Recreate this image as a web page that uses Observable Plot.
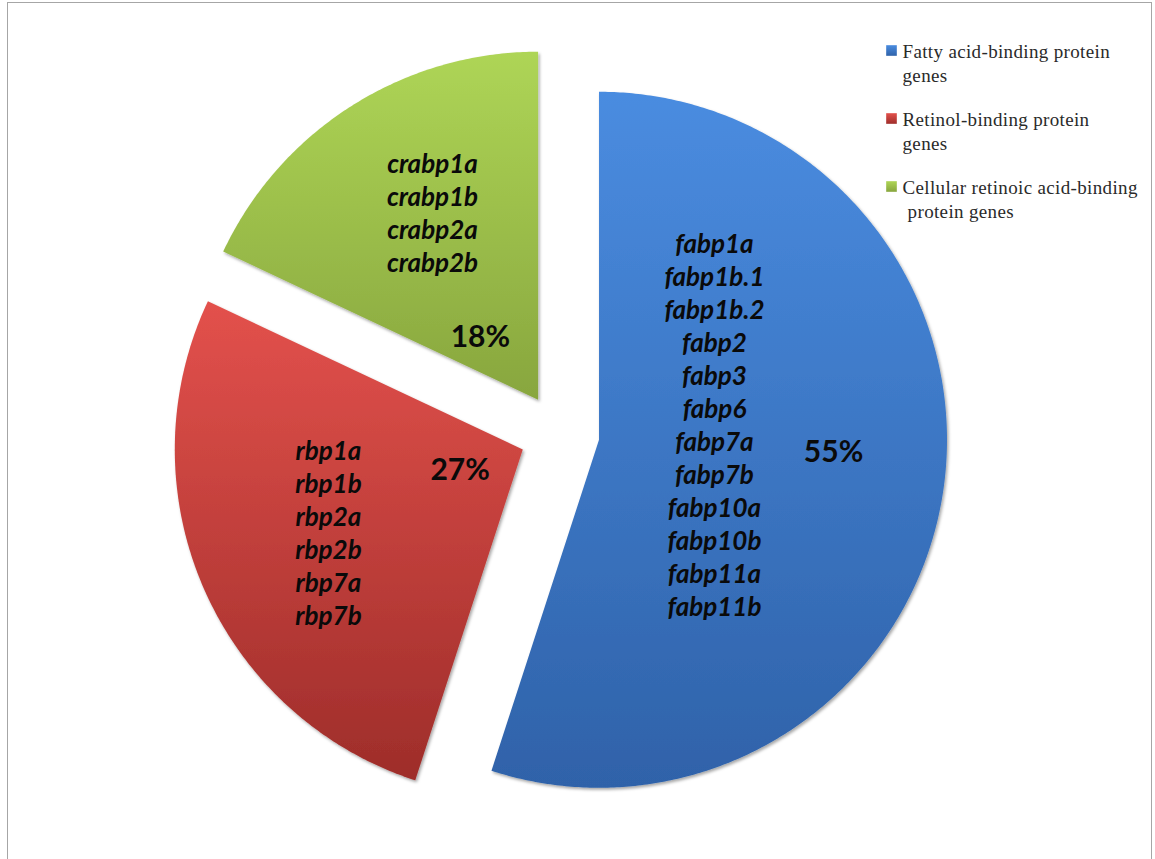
<!DOCTYPE html>
<html>
<head>
<meta charset="utf-8">
<script src="https://cdn.jsdelivr.net/npm/d3@7"></script>
<script src="https://cdn.jsdelivr.net/npm/@observablehq/plot@0.6"></script>
<style>
  html, body { margin: 0; padding: 0; background: #fff; }
  #wrap { position: relative; width: 1155px; height: 859px; overflow: hidden; }
  #frame { position: absolute; left: 7px; top: 2px; width: 1145px; height: 880px;
           border: 1.5px solid #a6a6a6; box-sizing: border-box; pointer-events: none; }
</style>
</head>
<body>
<div id="wrap"><div id="frame"></div></div>
<script>
// ---- data ----
const categories = [
  "Fatty acid-binding protein genes",
  "Retinol-binding protein genes",
  "Cellular retinoic acid-binding protein genes"
];
const shares = [55, 27, 18];
const percentLabels = ["55%", "27%", "18%"];
const fabpGenes = ["fabp1a","fabp1b.1","fabp1b.2","fabp2","fabp3","fabp6","fabp7a","fabp7b","fabp10a","fabp10b","fabp11a","fabp11b"];
const rbpGenes = ["rbp1a","rbp1b","rbp2a","rbp2b","rbp7a","rbp7b"];
const crabpGenes = ["crabp1a","crabp1b","crabp2a","crabp2b"];
const geneLists = [fabpGenes, rbpGenes, crabpGenes];
const legendLines = [
  ["Fatty acid-binding protein", "genes"],
  ["Retinol-binding protein", "genes"],
  ["Cellular retinoic acid-binding", " protein genes"]
];

// ---- layout ----
const W = 1155, H = 859;
const CX = 559, CY = 433, R = 348, EXPLODE = 40;
// label placement: [angle offset from slice mid (deg), radius fraction]
const listPlace = [[-16.9, 0.335], [0.3, 0.607], [3.0, 0.618]];
const pctPlace  = [[-5.8, 0.675], [4.7, 0.19], [-10.4, 0.244]];
const gradIds = ["gBlue", "gRed", "gGreen"];

const pie = d3.pie().sort(null).value(d => d)(shares);
const rad = a => a * Math.PI / 180;
const dir = ang => [Math.sin(ang), -Math.cos(ang)];

const slices = pie.map((p, i) => {
  const mid = (p.startAngle + p.endAngle) / 2;
  const [ux, uy] = dir(mid);
  return { i, name: categories[i], start: p.startAngle, end: p.endAngle, mid,
           ax: CX + EXPLODE * ux, ay: CY + EXPLODE * uy };
});

const polyPts = [];
for (const s of slices) {
  polyPts.push({ name: s.name, x: s.ax, y: s.ay });
  const n = Math.max(2, Math.ceil((s.end - s.start) / rad(0.5)));
  for (let k = 0; k <= n; k++) {
    const a = s.start + (s.end - s.start) * k / n;
    const [ux, uy] = dir(a);
    polyPts.push({ name: s.name, x: s.ax + R * ux, y: s.ay + R * uy });
  }
  polyPts.push({ name: s.name, x: s.ax, y: s.ay });
}

const place = (s, [off, frac]) => {
  const [ux, uy] = dir(s.mid + rad(off));
  return [s.ax + frac * R * ux, s.ay + frac * R * uy];
};
const listLabels = slices.map(s => {
  const [x, y] = place(s, listPlace[s.i]);
  return { x, y, text: geneLists[s.i].join("\n") };
});
const pctLabels = slices.map(s => {
  const [x, y] = place(s, pctPlace[s.i]);
  return { x, y, text: percentLabels[s.i] };
});

const LX = 891, LY = 51, LSTEP = 68, LLINE = 24;
const legendSwatches = categories.map((c, i) => ({ name: c, x: LX, y: LY + i * LSTEP - 1 }));
const legendText = [];
legendLines.forEach((lines, i) => lines.forEach((t, j) =>
  legendText.push({ x: LX + 11, y: LY + i * LSTEP + j * LLINE, text: t })));

const chart = Plot.plot({
  width: W, height: H,
  margin: 0,
  x: { domain: [0, W], range: [0, W], axis: null },
  y: { domain: [0, H], range: [0, H], axis: null },
  color: { type: "ordinal", domain: categories, range: gradIds.map(id => `url(#${id})`) },
  marks: [
    Plot.line(polyPts, { x: "x", y: "y", z: "name", fill: "name", stroke: "none", curve: "linear-closed" }),
    Plot.text(listLabels, { x: "x", y: "y", text: "text", fontFamily: "Lato, 'Open Sans', sans-serif",
      fontSize: 26, fontWeight: "bold", fontStyle: "italic", lineHeight: 33 / 26, fill: "#0a0a0a" }),
    Plot.text(pctLabels, { x: "x", y: "y", text: "text", fontFamily: "Lato, 'Open Sans', sans-serif",
      fontSize: 30, fontWeight: "bold", fill: "#0a0a0a" }),
    Plot.dot(legendSwatches, { x: "x", y: "y", symbol: "square", r: 6, fill: "name", stroke: "none" }),
    Plot.text(legendText, { x: "x", y: "y", text: "text", textAnchor: "start",
      fontFamily: "'Liberation Serif', 'Times New Roman', serif", fontSize: 19, fill: "#2a2a2a" })
  ]
});

// gradients + shadow
const ns = "http://www.w3.org/2000/svg";
const defs = document.createElementNS(ns, "defs");
const stops = {
  gBlue: ["#4a8ce0", "#2f62a9"],
  gRed: ["#e3514c", "#9e2d2a"],
  gGreen: ["#aed556", "#88a63e"]
};
for (const id of gradIds) {
  const g = document.createElementNS(ns, "linearGradient");
  g.setAttribute("id", id);
  g.setAttribute("x1", "0"); g.setAttribute("y1", "0");
  g.setAttribute("x2", "0"); g.setAttribute("y2", "1");
  stops[id].forEach((c, k) => {
    const s = document.createElementNS(ns, "stop");
    s.setAttribute("offset", k ? "1" : "0");
    s.setAttribute("stop-color", c);
    g.appendChild(s);
  });
  defs.appendChild(g);
}
const f = document.createElementNS(ns, "filter");
f.setAttribute("id", "shadow");
f.setAttribute("x", "-10%"); f.setAttribute("y", "-10%");
f.setAttribute("width", "120%"); f.setAttribute("height", "120%");
const ds = document.createElementNS(ns, "feDropShadow");
ds.setAttribute("dx", "1.5"); ds.setAttribute("dy", "2");
ds.setAttribute("stdDeviation", "1.5");
ds.setAttribute("flood-color", "#000"); ds.setAttribute("flood-opacity", "0.35");
f.appendChild(ds);
defs.appendChild(f);
chart.insertBefore(defs, chart.firstChild);
chart.querySelectorAll('g[aria-label="line"] path').forEach(p => p.setAttribute("filter", "url(#shadow)"));
// legend text slightly wider, like the reference
const legendG = chart.querySelectorAll('g[aria-label="text"]')[2];
if (legendG) legendG.style.letterSpacing = "0.35px";

chart.style.position = "absolute";
chart.style.left = "0"; chart.style.top = "0";
document.getElementById("wrap").insertBefore(chart, document.getElementById("frame"));
</script>
</body>
</html>
